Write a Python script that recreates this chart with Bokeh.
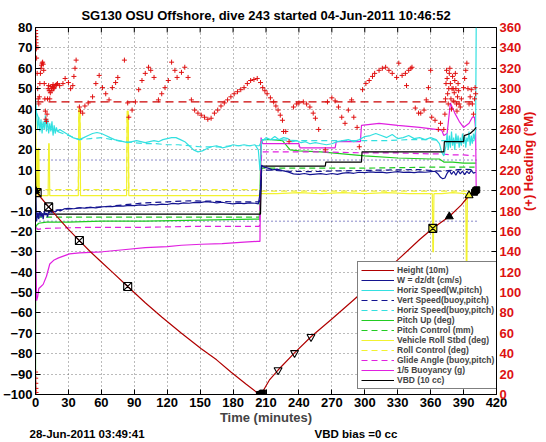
import math
from bokeh.plotting import figure
from bokeh.models import Range1d, LinearAxis, FixedTicker, Legend, LegendItem
from bokeh.embed import file_html
from bokeh.resources import INLINE

# ---------------- data ----------------
x_ticks = list(range(0, 421, 30))
left_ticks = list(range(-100, 81, 10))
right_ticks = list(range(0, 361, 20))

title_text = "SG130 OSU Offshore, dive 243 started 04-Jun-2011 10:46:52"
footer_text = "28-Jun-2011 03:49:41"
vbd_text = "VBD bias =0 cc"

height_t = [0, 5, 12, 20, 30, 40, 50, 60, 70, 84, 100, 115, 133, 151, 165, 178, 192, 204, 206, 213, 221, 236, 251, 270, 289, 310, 330, 350, 362, 377, 388, 395, 401]
height_v = [0, -3.5, -8, -13, -19, -24.5, -30, -35, -40, -47, -55, -62, -70, -77.6, -83, -89, -95, -100, -99.5, -93, -88, -79.6, -71.7, -63, -54, -44, -34, -24, -18.5, -12.7, -7, -2.4, 0]

w_t = [0, 0.5, 1, 2, 3, 4, 5, 6, 7, 8, 9, 10, 11, 12, 13, 14, 15, 16, 18, 20, 23, 26, 30, 35, 40, 45, 50, 55, 60, 65, 70, 75, 80, 85, 90, 95, 100, 105, 110, 115, 120, 125, 130, 135, 140, 145, 150, 155, 160, 165, 170, 175, 180, 185, 190, 195, 200, 203, 205, 206, 208, 212, 216, 220, 225, 230, 235, 240, 245, 250, 255, 260, 265, 270, 275, 280, 285, 290, 295, 300, 305, 310, 315, 320, 325, 330, 335, 340, 345, 350, 355, 360, 364, 367, 369, 371, 373, 375, 377, 379, 381, 383, 385, 387, 389, 391, 393, 395, 397, 399, 401]
w_v = [0, -12, -15, -11, -14, -10, -13, -11, -14, -10, -12, -11, -13, -10, -11, -9.5, -11, -10, -10.5, -9.5, -9.8, -9, -8.7, -8.9, -8.4, -8.6, -8.2, -8.5, -8.0, -7.8, -7.9, -7.5, -7.6, -7.2, -7.4, -7.0, -7.2, -6.8, -7.0, -6.6, -6.8, -6.3, -6.5, -6.0, -6.2, -5.8, -5.9, -5.4, -5.6, -6.0, -5.7, -6.2, -6.5, -6.1, -6.4, -6.0, -6.2, -6.5, 0, 12.5, 11.5, 11, 10.2, 10.5, 9.8, 9.2, 8.2, 8.0, 8.4, 7.8, 8.1, 8.3, 7.9, 8.4, 8.0, 8.6, 8.8, 8.5, 9.0, 8.8, 9.2, 8.9, 9.1, 8.7, 9.0, 9.3, 8.9, 9.1, 8.8, 9.2, 9.0, 9.3, 9.5, 8.0, 6.5, 5.8, 6.2, 8.5, 10, 8, 9.5, 7.5, 9.8, 8.2, 9.6, 7.8, 9.4, 8.3, 9.9, 8.6, 9]

hs_t = [0, 0.5, 1, 2, 3, 4, 5, 6, 7, 8, 9, 10, 11, 12, 13, 14, 15, 16, 17, 18, 19, 20, 22, 25, 28, 31, 34, 37, 40, 44, 48, 52, 56, 60, 64, 68, 72, 76, 80, 84, 88, 92, 96, 100, 104, 108, 112, 116, 120, 124, 128, 132, 136, 140, 144, 148, 152, 156, 160, 165, 170, 175, 180, 185, 190, 195, 200, 203, 204.5, 206, 210, 214, 218, 222, 226, 230, 234, 238, 242, 246, 250, 255, 260, 265, 270, 275, 280, 285, 290, 295, 300, 305, 310, 315, 320, 325, 330, 335, 340, 345, 350, 355, 360, 365, 368, 370, 372, 374, 375, 376, 377, 378, 379, 380, 381, 382, 383, 384, 385, 386, 387, 388, 389, 390, 391, 392, 393, 394, 395, 396, 397, 398, 399, 400, 401, 401.5]
hs_v = [45, 42, 38, 30, 36, 29, 35, 28, 34, 30, 37, 29, 35, 28, 33, 29, 34, 27, 32, 28, 31, 29, 30, 29, 28, 27, 26, 25.5, 25, 26, 27, 28, 28.5, 28, 27, 26, 25, 24.5, 24, 23.5, 24, 24.5, 24, 23.5, 24, 24.5, 24, 25, 25.5, 26, 26, 25, 24, 22, 20, 19, 19.5, 20.5, 21.5, 22, 21, 21.5, 22.5, 22, 22.5, 22, 22.5, 20, 10, 24, 26, 25, 26.5, 25, 26, 25.5, 24, 24.5, 23.5, 24, 23, 23.5, 23, 22.5, 23, 24, 24.5, 25, 24, 25, 26.5, 27, 28, 27, 26, 27.5, 25.5, 26, 27, 25.5, 26, 25, 26, 25, 23, 19, 17, 22, 28, 20, 27, 21, 29, 22, 26, 20, 28, 23, 27, 21, 26, 22, 28, 23, 27, 21, 26, 24, 29, 22, 27, 23, 28, 25, 30, 80]

vs_t = [0.5, 5, 10, 20, 40, 60, 80, 100, 120, 140, 160, 180, 200, 204, 206, 215, 230, 250, 270, 290, 310, 330, 350, 370, 380, 390, 400]
vs_v = [-11, -11, -10, -9.5, -8.5, -8, -7, -6, -5.5, -5, -5.2, -5.5, -5.5, -5.5, 10, 10, 9.5, 9.3, 9.6, 9.8, 10, 10.2, 10.3, 9.5, 10, 10.5, 10.2]

hb_t = [1, 5, 10, 15, 20, 30, 40, 50, 60, 70, 80, 90, 100, 110, 120, 130, 140, 150, 160, 170, 180, 190, 200, 204, 206, 220, 240, 260, 280, 300, 320, 340, 360, 370, 380, 390, 400]
hb_v = [38, 33, 31, 30, 29, 27, 25, 25.5, 26, 25, 24, 23.5, 23, 23, 22.5, 22.5, 22, 21.5, 21.5, 21.5, 22, 22, 22, 22, 25, 25, 24.5, 24.5, 24.5, 24.5, 24.5, 25, 25, 24.5, 24.5, 24.5, 24.5]

pu_t = [0, 0.3, 1, 3, 10, 30, 60, 100, 150, 200, 204, 205.5, 207, 215, 225, 232, 240, 260, 280, 300, 330, 360, 368, 372, 380, 390, 400, 401.5]
pu_v = [-100, -18, -17, -16, -15.5, -15.5, -15, -15, -14.5, -14, -14, 24, 25, 25, 24.5, 20, 19.5, 19, 18, 17, 16, 15.5, 15.5, 14, 14, 13.5, 13.5, 13.5]

pc_t = [0.5, 10, 50, 100, 150, 204, 206, 220, 240, 300, 360, 380, 400]
pc_v = [-13, -13, -13, -13, -13, -13, 11, 11, 11, 11, 11.5, 11.5, 11.5]

roll_t = [0, 0.3, 0.6, 1, 1.5, 2, 2.5, 3, 3.5, 4, 6, 10, 11.5, 12, 12.5, 13, 20, 30, 39, 39.5, 40.5, 41, 60, 83, 83.5, 84.5, 85, 100, 150, 203, 205, 206, 220, 240, 260, 280, 300, 320, 340, 360, 361.5, 362, 362.5, 363, 370, 380, 392, 392.5, 393, 393.5, 394, 398, 401]
roll_v = [0, 40, -2, 21, -2.5, 20, -2.5, 21, -2.5, -2.5, -2.5, -2.5, -2.5, 23, 23, -2.5, -2.5, -2.5, -2.5, 39.5, 39.5, -2.5, -2.5, -2.5, 39, 39, -2.5, -2.5, -2.5, -2.5, -1.5, -1.5, -1.5, -1.0, -1.5, -1.0, -1.5, -1.0, -1.5, -1.5, -1.5, -30, -30, -1.5, -1.5, -1.0, -1.5, -38, -38, -1.5, -1.5, -1.0, -1.0]

rc_t = [0, 39, 39.5, 40.5, 41, 83, 83.5, 84.5, 85, 204, 206, 401]
rc_v = [0.5, 0.5, 40.5, 40.5, 0.5, 0.5, 38, 38, 0.5, 0.5, -0.3, -0.3]

ga_t = [0.5, 2, 10, 50, 100, 150, 204, 206, 230, 260, 300, 330, 360, 370, 380, 390, 400]
ga_v = [-18, -19, -18.5, -18, -18, -17.5, -17.5, 19, 19, 19, 18.5, 18.5, 18, 18, 17.5, 17.5, 17]

bu_t = [0, 0.5, 1, 2, 3, 5, 7, 10, 13, 17, 21, 26, 31, 40, 50, 61, 80, 100, 120, 133, 151, 170, 190, 202, 204.5, 205.5, 207, 240, 241, 273, 274, 296, 297, 313, 330, 350, 370, 372, 375, 378, 382, 386, 390, 395, 398, 400, 401, 401.5]
bu_v = [-20, -40, -54, -52, -48, -47, -46, -42, -36, -34, -33, -32, -31, -30.5, -30.3, -30, -29, -28, -27.5, -26.8, -26.3, -26, -25.3, -24.9, -24.9, 26, 23, 23, 21, 21, 24, 24, 32, 33, 32, 31, 29.7, 27, 28, 43, 38, 34, 31, 33, 36, 36, 30, 0]

vbd_t = [0, 0.5, 205, 206, 264, 264.5, 297, 297.5, 372, 372.5, 390, 390.5, 396, 400, 401.5]
vbd_v = [10, -11.5, -11.5, 12, 12, 14, 14, 19, 19, 24, 24, 27, 28, 30, 31]

head_target_t = [0, 402]
head_target_v = [287, 287]
w_ref_t = [0, 402]
w_ref_up = [15, 15]
w_ref_dn = [-15, -15]

head_t = [0, 0.1, 0.2, 0.3, 0.4, 0.5, 0.6, 0.7, 0.1, 0.2, 0.3, 0.4, 0.5,
          1, 1.5, 2, 2.5, 3, 3.5, 4, 4.5, 5, 5.5, 6, 6.5, 7, 7.5, 8, 8.5, 9, 9.5, 10, 10.5, 11, 11.5, 12, 12.5, 13, 13.5, 14, 14.5, 15, 15.5, 16, 16.5, 17, 18, 19, 20,
          22, 25, 27, 30, 32, 34, 35, 36, 37, 40, 41, 43, 45, 48, 52, 55, 58, 61, 64, 67, 70, 73, 75, 81, 84, 85, 88, 91, 94, 97, 100, 103, 105, 108, 112, 115, 118, 121, 124, 127, 129, 133, 136, 139, 142, 145, 148, 151, 154, 157, 160, 163, 166, 169, 172, 175, 178, 181, 184, 187, 190, 193, 196, 199, 202, 205, 207, 209, 211, 214, 217, 219, 221, 223, 225, 226, 228, 231, 235, 238, 240, 244, 247, 250, 253, 255, 258, 264, 266, 270, 273, 276, 279, 282, 285, 288, 290, 293, 295, 298, 301, 304, 307, 309, 313, 316, 319, 322, 325, 329, 331, 334, 337, 338, 340, 342, 343, 346, 349, 351, 354, 356, 358, 360, 361, 364, 367, 369, 372,
          373, 373.5, 374, 374.5, 375, 375.5, 376, 376.5, 377, 377.5, 378, 378.5, 379, 379.5, 380, 380.5, 381, 381.5, 382, 382.5, 383, 383.5, 384, 384.5, 385, 385.5, 386,
          387, 388, 390, 391, 392, 393, 394, 395, 396, 397, 398, 399, 400, 400.5, 401]
head_v = [360, 357, 354, 351, 348, 345, 342, 339, 22, 16, 11, 6, 2,
          330, 315, 300, 290, 285, 292, 305, 315, 320, 323, 325, 326, 324, 318, 305, 290, 278, 270, 268, 275, 290, 300, 303, 298, 290, 296, 302, 300, 298, 302, 304, 300, 301, 303, 304, 305,
          303, 305, 310, 306, 300, 303, 312, 320, 328, 282, 278, 276, 283, 286, 292, 305, 313, 301, 295, 289, 301, 306, 311, 328, 286, 272, 279, 287, 299, 308, 315, 321, 318, 311, 289, 295, 301, 308, 326, 318, 311, 316, 321, 311, 289, 279, 276, 274, 272, 270, 271, 276, 279, 283, 286, 289, 292, 295, 297, 299, 301, 305, 308, 309, 310, 306, 301, 298, 295, 291, 287, 283, 279, 274, 269, 258, 258, 248, 282, 285, 286, 287, 285, 282, 276, 271, 260, 240, 287, 291, 288, 282, 272, 266, 279, 289, 272, 262, 243, 299, 305, 308, 312, 315, 318, 320, 321, 318, 315, 311, 325, 313, 315, 303, 318, 320, 321, 281, 276, 276, 279, 289, 301, 318, 272, 269, 260, 266, 260,
          275, 290, 305, 318, 310, 295, 285, 300, 315, 320, 305, 290, 280, 300, 312, 300, 288, 296, 308, 315, 300, 285, 278, 292, 305, 298, 285,
          282, 290, 301, 310, 318, 325, 300, 285, 292, 299, 285, 275, 290, 301, 295]

desc_mk_t = [1.5, 12, 40, 84]
desc_mk_v = [-1, -8, -24.5, -47]
top_mk_t = [0, 377]
top_mk_v = [0, -12.7]
bot_mk_t = [204, 205, 206, 207, 400, 401, 402]
bot_mk_v = [-100, -100, -99.7, -99.3, -0.8, 0, 0.4]
asc_mk_t = [221, 236, 251]
asc_mk_v = [-88, -79.6, -71.7]
end_mk_t = [362]
end_mk_v = [-18.5]
tri_mk_t = [395]
tri_mk_v = [-2.4]

# ---------------- figure ----------------
FONT = "Liberation Sans"
RED = "#dd1111"

p = figure(width=546, height=442, output_backend="svg", toolbar_location=None,
           title=title_text,
           x_range=Range1d(0, 420), y_range=Range1d(-100, 80),
           min_border_left=32, min_border_right=48, min_border_top=27, min_border_bottom=46)
p.extra_y_ranges = {"hd": Range1d(0, 360)}
p.outline_line_color = "black"
p.background_fill_color = "white"
p.border_fill_color = "white"

p.title.align = "center"
p.title.text_font = FONT
p.title.text_font_size = "13px"
p.title.text_font_style = "bold"
p.title.text_color = "black"
p.title.standoff = 10


def style_axis(ax, ticks, color="black", size="13px"):
    ax.ticker = FixedTicker(ticks=ticks)
    ax.major_label_text_font = FONT
    ax.major_label_text_font_size = size
    ax.major_label_text_font_style = "bold"
    ax.major_label_text_color = color
    ax.major_tick_in = 5
    ax.major_tick_out = 0
    ax.minor_tick_in = 0
    ax.minor_tick_out = 0
    ax.axis_line_color = "black"
    ax.major_tick_line_color = "black"
    ax.major_label_standoff = 3


style_axis(p.xaxis[0], x_ticks)
p.xaxis[0].axis_label = "Time (minutes)"
p.xaxis[0].axis_label_text_font = FONT
p.xaxis[0].axis_label_text_font_size = "13px"
p.xaxis[0].axis_label_text_font_style = "bold"
p.xaxis[0].axis_label_standoff = 0

style_axis(p.yaxis[0], left_ticks)

ax_r = LinearAxis(y_range_name="hd")
style_axis(ax_r, right_ticks, color=RED)
ax_r.axis_label = "(+) Heading (\u00b0M)"
ax_r.axis_label_text_font = FONT
ax_r.axis_label_text_font_size = "13px"
ax_r.axis_label_text_font_style = "bold"
ax_r.axis_label_text_color = RED
ax_r.axis_label_standoff = 4
try:
    ax_r.axis_label_orientation = math.pi / 2
except Exception:
    pass
p.add_layout(ax_r, "right")

# footer texts as an unmarked extra axis row below the time label
foot_pos = [47, 292]
ax_f = LinearAxis(ticker=FixedTicker(ticks=foot_pos),
                  major_label_overrides={foot_pos[0]: footer_text, foot_pos[1]: vbd_text})
ax_f.axis_line_color = None
ax_f.major_tick_line_color = None
ax_f.minor_tick_line_color = None
ax_f.major_tick_in = 0
ax_f.major_tick_out = 0
ax_f.major_label_standoff = 0
ax_f.major_label_text_font = FONT
ax_f.major_label_text_font_size = "11.5px"
ax_f.major_label_text_font_style = "bold"
ax_f.major_label_text_color = "black"
p.add_layout(ax_f, "below")

p.xgrid.ticker = FixedTicker(ticks=x_ticks)
p.ygrid.ticker = FixedTicker(ticks=left_ticks)
for g in (p.xgrid[0], p.ygrid[0]):
    g.grid_line_color = "#555555"
    g.grid_line_dash = "1 3"
    g.grid_line_alpha = 0.8

# top-edge inward ticks (box style)
tick_len = 5 / 2.05
p.segment(x0=x_ticks, y0=[80] * len(x_ticks), x1=x_ticks, y1=[80 - tick_len] * len(x_ticks),
          line_color="black", line_width=1)

# colors
C_H = "#b00000"
C_B = "#141490"
C_C = "#33e0e0"
C_G = "#22cc22"
C_Y = "#f2f230"
C_M = "#e020e0"
DASH = "6 4"
LW = 1.2

p.line(w_ref_t, w_ref_up, color=C_B, line_dash="1 3", line_width=1)
p.line(w_ref_t, w_ref_dn, color=C_B, line_dash="1 3", line_width=1)
p.line(head_target_t, head_target_v, y_range_name="hd", color="#cc0000", line_dash="8 5", line_width=1.2)

r_roll = p.line(roll_t, roll_v, color=C_Y, line_width=LW)
r_rc = p.line(rc_t, rc_v, color=C_Y, line_width=LW, line_dash=DASH)
r_pc = p.line(pc_t, pc_v, color=C_G, line_width=LW, line_dash=DASH)
r_pu = p.line(pu_t, pu_v, color=C_G, line_width=LW)
r_ga = p.line(ga_t, ga_v, color=C_M, line_width=LW, line_dash=DASH)
r_bu = p.line(bu_t, bu_v, color=C_M, line_width=LW)
r_hb = p.line(hb_t, hb_v, color=C_C, line_width=LW, line_dash=DASH)
r_hs = p.line(hs_t, hs_v, color=C_C, line_width=LW)
r_vbd = p.line(vbd_t, vbd_v, color="black", line_width=LW)
r_vs = p.line(vs_t, vs_v, color=C_B, line_width=LW, line_dash=DASH)
r_w = p.line(w_t, w_v, color=C_B, line_width=LW)

p.scatter(head_t, head_v, y_range_name="hd", marker="cross", size=5, line_color="#e01010", line_width=1.0)

r_h = p.line(height_t, height_v, color=C_H, line_width=LW)
p.scatter(desc_mk_t, desc_mk_v, marker="square_x", size=8, line_color="black", fill_color=None, line_width=1.1)
p.scatter(top_mk_t, top_mk_v, marker="triangle", size=8, line_color="black", fill_color="black")
p.scatter(bot_mk_t, bot_mk_v, marker="square", size=6, line_color="black", fill_color="black")
p.scatter(asc_mk_t, asc_mk_v, marker="inverted_triangle", size=8, line_color="black", fill_color=None, line_width=1.1)
p.scatter(end_mk_t, end_mk_v, marker="square_x", size=8, line_color="black", fill_color=C_Y, line_width=1.1)
p.scatter(tri_mk_t, tri_mk_v, marker="triangle", size=8, line_color="black", fill_color=C_Y, line_width=1.1)

legend = Legend(items=[
    LegendItem(label="Height (10m)", renderers=[r_h]),
    LegendItem(label="W = dz/dt (cm/s)", renderers=[r_w]),
    LegendItem(label="Horiz Speed(W,pitch)", renderers=[r_hs]),
    LegendItem(label="Vert Speed(buoy,pitch)", renderers=[r_vs]),
    LegendItem(label="Horiz Speed(buoy,pitch)", renderers=[r_hb]),
    LegendItem(label="Pitch Up (deg)", renderers=[r_pu]),
    LegendItem(label="Pitch Control (mm)", renderers=[r_pc]),
    LegendItem(label="Vehicle Roll Stbd (deg)", renderers=[r_roll]),
    LegendItem(label="Roll Control (deg)", renderers=[r_rc]),
    LegendItem(label="Glide Angle (buoy,pitch)", renderers=[r_ga]),
    LegendItem(label="1/5 Buoyancy (g)", renderers=[r_bu]),
    LegendItem(label="VBD (10 cc)", renderers=[r_vbd]),
], location=(322, 5))
legend.label_text_font = FONT
legend.label_text_font_size = "8.5px"
legend.label_text_font_style = "bold"
legend.glyph_width = 33
legend.glyph_height = 10
legend.label_height = 10
legend.spacing = 0
legend.padding = 3
legend.margin = 0
legend.label_standoff = 3
legend.border_line_color = "black"
legend.border_line_width = 1
legend.background_fill_color = "white"
legend.background_fill_alpha = 1.0
p.add_layout(legend)

open("out.html", "w").write(file_html(p, INLINE))
